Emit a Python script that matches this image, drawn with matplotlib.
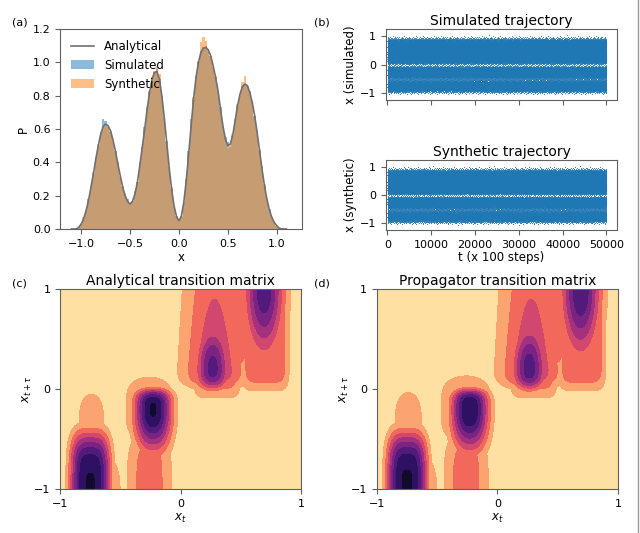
import numpy as np
import matplotlib
matplotlib.use("Agg")
import matplotlib.pyplot as plt
from matplotlib.lines import Line2D

plt.rcParams['font.family'] = ['DejaVu Sans']

# ---------------- panel (a) data: density ----------------
x_grid = np.round(np.linspace(-1.1, 1.1, 89), 3)
analytical = [0.0, 0.0, 0.0, 0.01, 0.03, 0.06, 0.11, 0.17, 0.25, 0.33,
              0.42, 0.50, 0.57, 0.615, 0.63, 0.62, 0.59, 0.535, 0.47, 0.39,
              0.32, 0.25, 0.20, 0.165, 0.15, 0.165, 0.21, 0.28, 0.38, 0.49,
              0.60, 0.72, 0.82, 0.90, 0.94, 0.945, 0.90, 0.80, 0.67, 0.52,
              0.37, 0.24, 0.14, 0.075, 0.05, 0.075, 0.16, 0.29, 0.45, 0.62,
              0.78, 0.91, 1.00, 1.06, 1.085, 1.09, 1.075, 1.04, 0.98, 0.91,
              0.83, 0.72, 0.62, 0.54, 0.50, 0.51, 0.56, 0.65, 0.74, 0.81,
              0.855, 0.87, 0.86, 0.82, 0.76, 0.68, 0.58, 0.47, 0.36, 0.26,
              0.18, 0.115, 0.07, 0.04, 0.02, 0.005, 0.0, 0.0, 0.0]
simulated_hist = [0.0, 0.0, 0.0, 0.01, 0.03, 0.06, 0.11, 0.18, 0.26, 0.33,
                  0.43, 0.50, 0.58, 0.66, 0.65, 0.61, 0.58, 0.53, 0.47, 0.40,
                  0.31, 0.25, 0.21, 0.18, 0.15, 0.17, 0.23, 0.28, 0.39, 0.49,
                  0.61, 0.72, 0.83, 0.89, 0.94, 0.96, 0.90, 0.79, 0.67, 0.53,
                  0.37, 0.24, 0.14, 0.08, 0.05, 0.07, 0.16, 0.30, 0.47, 0.66,
                  0.78, 0.92, 1.00, 1.07, 1.09, 1.10, 1.07, 1.04, 0.97, 0.91,
                  0.83, 0.73, 0.62, 0.55, 0.52, 0.49, 0.56, 0.66, 0.74, 0.80,
                  0.86, 0.87, 0.86, 0.83, 0.76, 0.68, 0.59, 0.47, 0.38, 0.26,
                  0.18, 0.12, 0.07, 0.04, 0.02, 0.005, 0.0, 0.0, 0.0]
synthetic_hist = [0.0, 0.0, 0.0, 0.01, 0.03, 0.07, 0.11, 0.17, 0.25, 0.34,
                  0.42, 0.51, 0.57, 0.62, 0.61, 0.62, 0.59, 0.54, 0.46, 0.39,
                  0.32, 0.26, 0.20, 0.17, 0.15, 0.16, 0.21, 0.28, 0.40, 0.49,
                  0.60, 0.73, 0.82, 0.91, 0.95, 0.98, 0.93, 0.80, 0.66, 0.52,
                  0.37, 0.25, 0.14, 0.07, 0.05, 0.08, 0.16, 0.29, 0.45, 0.62,
                  0.79, 0.91, 1.01, 1.12, 1.15, 1.13, 1.08, 1.04, 0.98, 0.92,
                  0.82, 0.72, 0.61, 0.54, 0.48, 0.51, 0.57, 0.65, 0.75, 0.81,
                  0.88, 0.92, 0.86, 0.82, 0.77, 0.68, 0.58, 0.48, 0.36, 0.27,
                  0.18, 0.11, 0.07, 0.04, 0.02, 0.01, 0.0, 0.0, 0.0]

# ---------------- panel (b): trajectories ----------------
n_steps = 50000
traj_ticks = [0, 10000, 20000, 30000, 40000, 50000]

# ---------------- panels (c)/(d): transition-matrix blobs ----------------
#             col1 main, col1 tail, col1 shoulder, col2 main, col2 top, col2 bottom,
#             col3 main, col3 tear, col4 main, plateau3, plateau4, bridge
blob_cx    = [-0.75, -0.74, -0.58, -0.23, -0.26, -0.26, 0.265, 0.28, 0.69, 0.30, 0.70, 0.50]
blob_cy    = [-1.0, -0.45, -1.0, -0.23, -0.20, -1.0, 0.21, 0.20, 1.0, 0.60, 0.60, 0.90]
blob_amp_c = [0.805, 0.15, 0.15, 0.81, 0.15, 0.28, 0.64, 0.40, 0.68, 0.27, 0.27, 0.27]
blob_amp_d = [0.81, 0.16, 0.15, 0.80, 0.16, 0.28, 0.66, 0.40, 0.70, 0.27, 0.27, 0.27]
blob_sx    = [0.161, 0.16, 0.12, 0.149, 0.30, 0.18, 0.14, 0.26, 0.16, 0.20, 0.20, 0.10]
blob_px    = [3.2, 2, 2, 2.3, 2, 2, 2, 2, 2, 6, 6, 2]
blob_sydn  = [0.56, 0.50, 0.45, 0.38, 0.40, 0.60, 0.218, 0.20, 0.67, 0.69, 0.62, 0.851]
blob_pydn  = [4, 4, 2, 2, 4, 4, 3, 3, 2, 8, 8, 4]
blob_syup  = [0.56, 0.50, 0.45, 0.228, 0.40, 0.60, 0.452, 2.43, 0.67, 3.0, 3.0, 3.0]
blob_pyup  = [4, 4, 2, 4.45, 4, 4, 2, 1, 2, 8, 8, 4]
contour_levels = [0, 0.1, 0.2, 0.3, 0.4, 0.5, 0.6, 0.7, 0.8, 0.9]
contour_colors = ['#fde0a2', '#fca46f', '#f2695c', '#d2476d', '#a3317d',
                  '#7a2382', '#521a7b', '#2f1163', '#110a2a']

TICK_FS = 8
LAB_FS = 8.5
TITLE_FS = 10
SPINE_C = '#606060'


def style(ax):
    for s in ax.spines.values():
        s.set_color(SPINE_C)
        s.set_linewidth(0.8)
    ax.tick_params(labelsize=TICK_FS, color=SPINE_C, width=0.8, length=3.5)


fig = plt.figure(figsize=(6.4, 5.33), dpi=100)

# ---------------- (a) ----------------
ax_a = fig.add_axes([0.094, 0.5704, 0.378, 0.375])
bw = x_grid[1] - x_grid[0]
ax_a.plot(x_grid, analytical, color='#707070', lw=1.2, label='Analytical', zorder=3)
ax_a.bar(x_grid, simulated_hist, width=bw, color='C0', alpha=0.5, linewidth=0, label='Simulated')
ax_a.bar(x_grid, synthetic_hist, width=bw, color='C1', alpha=0.5, linewidth=0, label='Synthetic')
ax_a.set_xlim(-1.215, 1.26)
ax_a.set_ylim(0, 1.2)
ax_a.set_xticks([-1.0, -0.5, 0.0, 0.5, 1.0])
ax_a.set_yticks([0.0, 0.2, 0.4, 0.6, 0.8, 1.0, 1.2])
ax_a.set_xlabel('x', fontsize=LAB_FS, labelpad=2)
ax_a.set_ylabel('P', fontsize=LAB_FS, labelpad=2)
h, l = ax_a.get_legend_handles_labels()
want = ['Analytical', 'Simulated', 'Synthetic']
hh = [h[l.index(w)] for w in want]
ax_a.legend(hh, want, loc='upper left', frameon=False, fontsize=LAB_FS)
style(ax_a)

# ---------------- (b) ----------------
dens = np.array(analytical)
cdf = np.cumsum(dens)
cdf = (cdf - cdf[0]) / (cdf[-1] - cdf[0])
t = np.arange(n_steps)
u_sim = (t * 0.6180339887 + 0.5) % 1.0
u_syn = (t * 0.4142135624 + 0.25) % 1.0
x_sim = np.interp(u_sim, cdf, x_grid)
x_syn = np.interp(u_syn, cdf, x_grid)

ax_b1 = fig.add_axes([0.603, 0.8124, 0.361, 0.133])
ax_b2 = fig.add_axes([0.603, 0.5685, 0.361, 0.131])
for ax, xs, ttl, yl in [(ax_b1, x_sim, 'Simulated trajectory', 'x (simulated)'),
                        (ax_b2, x_syn, 'Synthetic trajectory', 'x (synthetic)')]:
    ax.scatter(t, xs, s=0.6, c='C0', linewidths=0)
    ax.set_xlim(-350, 52400)
    ax.set_ylim(-1.24, 1.24)
    ax.set_yticks([-1, 0, 1])
    ax.set_xticks(traj_ticks)
    ax.set_title(ttl, fontsize=TITLE_FS, pad=3)
    ax.set_ylabel(yl, fontsize=LAB_FS, labelpad=2)
    style(ax)
ax_b1.set_xticklabels([])
ax_b2.set_xlabel('t (x 100 steps)', fontsize=LAB_FS, labelpad=1)

# ---------------- (c), (d) ----------------
xg = np.linspace(-1, 1, 401)
yg = np.linspace(-1, 1, 401)
XX, YY = np.meshgrid(xg, yg)


def matrix(amps):
    Z = np.zeros_like(XX)
    for i in range(len(blob_cx)):
        dx = np.abs((XX - blob_cx[i]) / blob_sx[i]) ** blob_px[i]
        dyv = YY - blob_cy[i]
        dy = np.where(dyv < 0, np.abs(dyv / blob_sydn[i]) ** blob_pydn[i],
                      np.abs(dyv / blob_syup[i]) ** blob_pyup[i])
        Z = np.maximum(Z, amps[i] * np.exp(-dx - dy))
    return Z


ax_c = fig.add_axes([0.094, 0.0826, 0.377, 0.375])
ax_d = fig.add_axes([0.589, 0.0826, 0.3766, 0.375])
for ax, amps, ttl in [(ax_c, blob_amp_c, 'Analytical transition matrix'),
                      (ax_d, blob_amp_d, 'Propagator transition matrix')]:
    ax.contourf(xg, yg, matrix(amps), levels=contour_levels, colors=contour_colors)
    ax.set_xlim(-1, 1)
    ax.set_ylim(-1, 1)
    ax.set_xticks([-1, 0, 1])
    ax.set_yticks([-1, 0, 1])
    ax.set_title(ttl, fontsize=TITLE_FS, pad=3)
    ax.set_xlabel('$x_t$', fontsize=LAB_FS, labelpad=2)
    ax.set_ylabel(r'$x_{t+\tau}$', fontsize=LAB_FS, labelpad=0)
    style(ax)

# panel letters
fig.text(0.019, 0.953, '(a)', fontsize=8)
fig.text(0.490, 0.953, '(b)', fontsize=8)
fig.text(0.019, 0.462, '(c)', fontsize=8)
fig.text(0.490, 0.462, '(d)', fontsize=8)

fig.add_artist(Line2D([0.997, 0.997], [0.0, 1.0], transform=fig.transFigure,
                      color='#9a9a9a', lw=1))

fig.savefig('out.png', dpi=100)
